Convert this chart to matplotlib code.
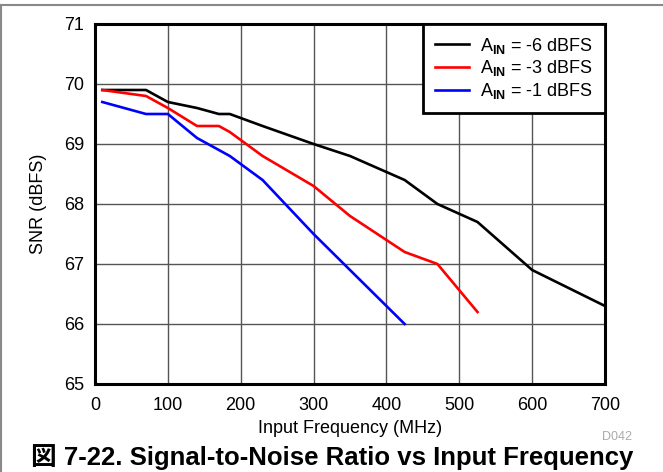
import matplotlib
matplotlib.use("Agg")
import matplotlib.pyplot as plt
from matplotlib.lines import Line2D

plt.rcParams['font.family'] = ['Liberation Sans', 'DejaVu Sans']
plt.rcParams['mathtext.fontset'] = 'custom'
plt.rcParams['mathtext.rm'] = 'Liberation Sans'
plt.rcParams['mathtext.bf'] = 'Liberation Sans:bold'

# data
freq_m6 = [10, 70, 100, 140, 170, 185, 230, 300, 350, 425, 470, 525, 600, 700]
snr_m6 = [69.9, 69.9, 69.7, 69.6, 69.5, 69.5, 69.3, 69.0, 68.8, 68.4, 68.0, 67.7, 66.9, 66.3]

freq_m3 = [10, 70, 100, 140, 170, 185, 230, 300, 350, 425, 470, 525]
snr_m3 = [69.9, 69.8, 69.6, 69.3, 69.3, 69.2, 68.8, 68.3, 67.8, 67.2, 67.0, 66.2]

freq_m1 = [10, 70, 100, 140, 185, 230, 300, 350, 425]
snr_m1 = [69.7, 69.5, 69.5, 69.1, 68.8, 68.4, 67.5, 66.9, 66.0]

labels = [r'A$_{\mathbf{IN}}$ = -6 dBFS', r'A$_{\mathbf{IN}}$ = -3 dBFS', r'A$_{\mathbf{IN}}$ = -1 dBFS']
xticks = [0, 100, 200, 300, 400, 500, 600, 700]
yticks = [65, 66, 67, 68, 69, 70, 71]

W, H = 663, 472
fig = plt.figure(figsize=(W/100, H/100), dpi=100)
ax = fig.add_axes([95/W, (H-384)/H, 510/W, 360/H])

ax.plot(freq_m6, snr_m6, color='black', lw=1.9, label=labels[0])
ax.plot(freq_m3, snr_m3, color='#ff0000', lw=1.9, label=labels[1])
ax.plot(freq_m1, snr_m1, color='#0000ff', lw=1.9, label=labels[2])

ax.set_xlim(0, 700)
ax.set_ylim(65, 71)
ax.set_xticks(xticks)
ax.set_yticks(yticks)
ax.tick_params(length=0, labelsize=13, pad=8)
ax.tick_params(axis='x', pad=9)
ax.grid(True, color='#555555', lw=1.0)
ax.set_axisbelow(True)
for s in ax.spines.values():
    s.set_linewidth(2.2)

ax.set_xlabel('Input Frequency (MHz)', fontsize=13, labelpad=5)
ax.set_ylabel('SNR (dBFS)', fontsize=13, labelpad=12)

leg = ax.legend(loc='upper right', borderaxespad=0, fontsize=13, fancybox=False,
                handlelength=1.9, handletextpad=0.6, labelspacing=0.15,
                borderpad=0.65, framealpha=1)
leg.get_frame().set_edgecolor('black')
leg.get_frame().set_linewidth(2.0)

fig.text(617/W, 1 - 437/H, 'D042', color='#aaaaaa', fontsize=9, ha='center', va='center')
fig.text(31/W, 1 - 465/H, '図 7-22. Signal-to-Noise Ratio vs Input Frequency',
         family=['Liberation Sans', 'Noto Sans CJK JP'], fontweight='bold',
         fontsize=18.5, ha='left', va='baseline')

# screenshot frame on top and left
fig.add_artist(Line2D([0, 1], [1 - 4.5/H, 1 - 4.5/H], color='#888888', lw=1.5))
fig.add_artist(Line2D([0.5/W, 0.5/W], [0, 1 - 4.5/H], color='#888888', lw=1.5))

fig.savefig('out.png', dpi=100)
